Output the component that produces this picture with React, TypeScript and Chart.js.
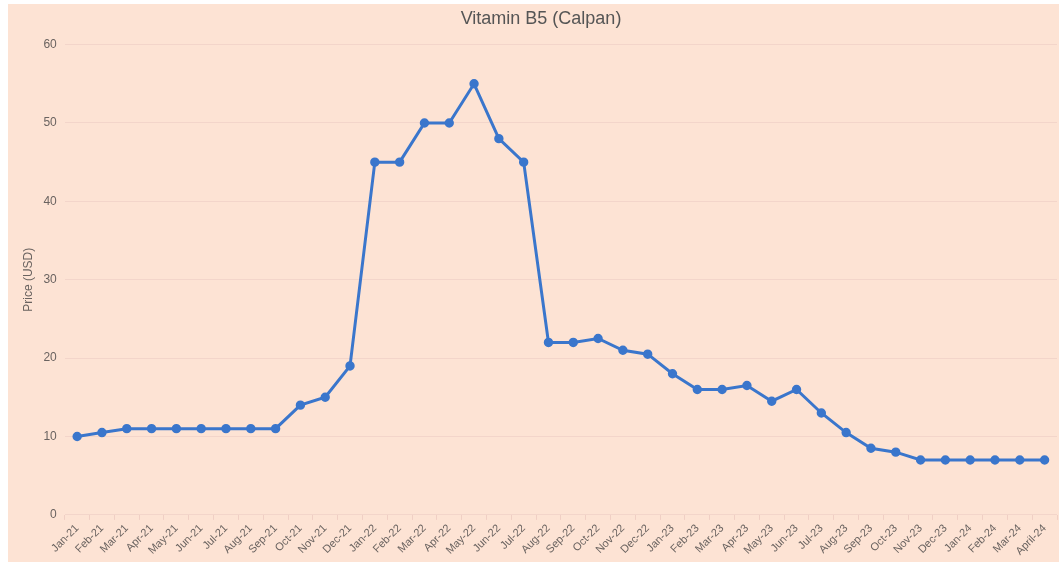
import React, { useEffect, useRef } from "react";
import { Chart, registerables } from "chart.js";

Chart.register(...registerables);

const categories = [
  "Jan-21", "Feb-21", "Mar-21", "Apr-21", "May-21", "Jun-21", "Jul-21", "Aug-21", "Sep-21", "Oct-21", "Nov-21", "Dec-21",
  "Jan-22", "Feb-22", "Mar-22", "Apr-22", "May-22", "Jun-22", "Jul-22", "Aug-22", "Sep-22", "Oct-22", "Nov-22", "Dec-22",
  "Jan-23", "Feb-23", "Mar-23", "Apr-23", "May-23", "Jun-23", "Jul-23", "Aug-23", "Sep-23", "Oct-23", "Nov-23", "Dec-23",
  "Jan-24", "Feb-24", "Mar-24", "April-24",
];

const prices = [
  10, 10.5, 11, 11, 11, 11, 11, 11, 11, 14, 15, 19,
  45, 45, 50, 50, 55, 48, 45, 22, 22, 22.5, 21, 20.5,
  18, 16, 16, 16.5, 14.5, 16, 13, 10.5, 8.5, 8, 7, 7,
  7, 7, 7, 7,
];

const titleText = "Vitamin B5 (Calpan)";
const yAxisTitle = "Price (USD)";

export default function App() {
  const ref = useRef<HTMLCanvasElement | null>(null);

  useEffect(() => {
    if (!ref.current) return;
    const chart = new Chart(ref.current, {
      type: "line",
      data: {
        labels: categories,
        datasets: [
          {
            label: "Price",
            data: prices,
            borderColor: "#3a76cc",
            backgroundColor: "#3a76cc",
            borderWidth: 3,
            pointRadius: 3.2,
            pointBackgroundColor: "#3a76cc",
            pointBorderColor: "#3a76cc",
            tension: 0,
          },
        ],
      },
      options: {
        animation: false,
        responsive: true,
        maintainAspectRatio: false,
        layout: { padding: { left: 10, right: 0, top: 0, bottom: 2 } },
        plugins: {
          legend: { display: false },
          tooltip: { enabled: false },
          title: {
            display: true,
            text: titleText,
            color: "#555555",
            font: { family: "'Liberation Sans', Arial, sans-serif", size: 18, weight: "normal" },
            padding: { top: 4, bottom: 15 },
          },
        },
        scales: {
          x: {
            offset: true,
            grid: {
              display: true,
              offset: true,
              drawOnChartArea: false,
              drawTicks: true,
              tickLength: 5,
              color: "#f0cfc4",
            },
            border: { display: false },
            ticks: {
              autoSkip: false,
              maxRotation: 45,
              minRotation: 45,
              color: "#6a6360",
              padding: 2,
              font: { family: "'Liberation Sans', Arial, sans-serif", size: 11 },
            },
          },
          y: {
            min: 0,
            max: 60,
            ticks: {
              stepSize: 10,
              color: "#6a6360",
              padding: 8,
              font: { family: "'Liberation Sans', Arial, sans-serif", size: 12 },
            },
            grid: {
              color: "#f3d5ca",
              drawTicks: false,
            },
            border: { display: false },
            title: {
              display: true,
              text: yAxisTitle,
              color: "#6a6360",
              font: { family: "'Liberation Sans', Arial, sans-serif", size: 12 },
              padding: { top: 3, bottom: 0 },
            },
          },
        },
      },
    });
    return () => chart.destroy();
  }, []);

  return (
    <div
      style={{
        position: "absolute",
        left: 8,
        top: 4,
        width: 1051,
        height: 558,
        background: "#fde3d4",
        overflow: "hidden",
      }}
    >
      <div style={{ position: "relative", width: 1056, height: 558 }}>
        <canvas ref={ref} />
      </div>
    </div>
  );
}
